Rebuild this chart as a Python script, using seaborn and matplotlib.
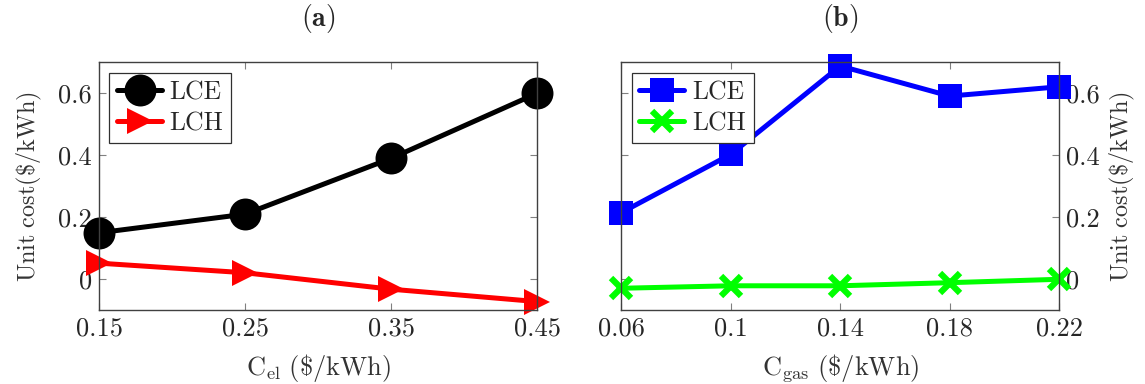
import matplotlib
matplotlib.use('Agg')
import matplotlib.pyplot as plt
import seaborn as sns
import pandas as pd

# Data
c_el = [0.15, 0.25, 0.35, 0.45]
lce_el = [0.15, 0.21, 0.39, 0.60]
lch_el = [0.052, 0.021, -0.032, -0.072]

c_gas = [0.06, 0.10, 0.14, 0.18, 0.22]
lce_gas = [0.215, 0.403, 0.688, 0.591, 0.621]
lch_gas = [-0.029, -0.021, -0.021, -0.011, 0.0]

el_ticklabels = ['0.15', '0.25', '0.35', '0.45']
gas_ticklabels = ['0.06', '0.1', '0.14', '0.18', '0.22']
y_ticks = [0, 0.2, 0.4, 0.6]
y_ticklabels = ['0', '0.2', '0.4', '0.6']

sns.set_style('white')
plt.rcParams['font.family'] = 'serif'
plt.rcParams['font.serif'] = ['cmr10', 'DejaVu Serif']
plt.rcParams['mathtext.fontset'] = 'cm'
plt.rcParams['axes.unicode_minus'] = False

fig = plt.figure(figsize=(11.45, 3.84), dpi=100)
ax1 = fig.add_axes([0.0865, 0.192, 0.3825, 0.6458])
ax2 = fig.add_axes([0.5426, 0.192, 0.3825, 0.6458])

df_el = pd.DataFrame({'x': c_el, 'LCE': lce_el, 'LCH': lch_el})
df_gas = pd.DataFrame({'x': c_gas, 'LCE': lce_gas, 'LCH': lch_gas})

lw = 3.6
sns.lineplot(data=df_el, x='x', y='LCE', ax=ax1, color='black', marker='o',
             markersize=23, linewidth=lw, markeredgewidth=0, label='LCE', clip_on=False)
sns.lineplot(data=df_el, x='x', y='LCH', ax=ax1, color='red', marker='>',
             markersize=19, linewidth=lw, markeredgewidth=0, label='LCH', clip_on=False)

sns.lineplot(data=df_gas, x='x', y='LCE', ax=ax2, color='blue', marker='s',
             markersize=17, linewidth=lw, markeredgewidth=0, label='LCE', clip_on=False)
sns.lineplot(data=df_gas, x='x', y='LCH', ax=ax2, color='#00ff00', marker='x',
             markersize=15, linewidth=lw, markeredgewidth=4.5, markeredgecolor='#00ff00',
             label='LCH', clip_on=False)

fs = 19
for ax, xs, xl in [(ax1, c_el, el_ticklabels), (ax2, c_gas, gas_ticklabels)]:
    ax.set_xlim(xs[0], xs[-1])
    ax.set_ylim(-0.1, 0.7)
    ax.set_xticks(xs)
    ax.set_xticklabels(xl, fontsize=fs)
    ax.set_yticks(y_ticks)
    ax.set_yticklabels(y_ticklabels, fontsize=fs)
    ax.tick_params(direction='in', length=5, width=0.8, color='#808080',
                   top=True, right=True, left=True, bottom=True, pad=5)
    for s in ax.spines.values():
        s.set_color('#404040')
        s.set_linewidth(1.0)
    leg = ax.legend(loc='upper left', fontsize=18.5, frameon=True, fancybox=False,
                    edgecolor='#303030', handlelength=1.75, borderpad=0.3,
                    labelspacing=0.3, handletextpad=0.3, borderaxespad=0.4)
    leg.get_frame().set_linewidth(0.9)
    leg.get_frame().set_alpha(1)

ax1.set_xlabel(r'$\mathrm{C}_{\mathrm{el}}\ (\$/\mathrm{kWh})$', fontsize=fs, color='#333333', labelpad=8)
ax1.set_ylabel(r'$\mathrm{Unit\ cost}(\$/\mathrm{kWh})$', fontsize=17.5, color='#333333', labelpad=10)
ax1.set_title(r'$\mathbf{(a)}$', fontsize=20, pad=26)

ax2.yaxis.set_label_position('right')
ax2.yaxis.tick_right()
ax2.tick_params(left=True, right=True, labelleft=False, labelright=True)
ax2.set_xlabel(r'$\mathrm{C}_{\mathrm{gas}}\ (\$/\mathrm{kWh})$', fontsize=fs, color='#333333', labelpad=8)
ax2.set_ylabel(r'$\mathrm{Unit\ cost}(\$/\mathrm{kWh})$', fontsize=17.5, color='#333333', labelpad=6)
ax2.set_title(r'$\mathbf{(b)}$', fontsize=20, pad=26)

plt.savefig('out.png', dpi=100)
plt.close()
